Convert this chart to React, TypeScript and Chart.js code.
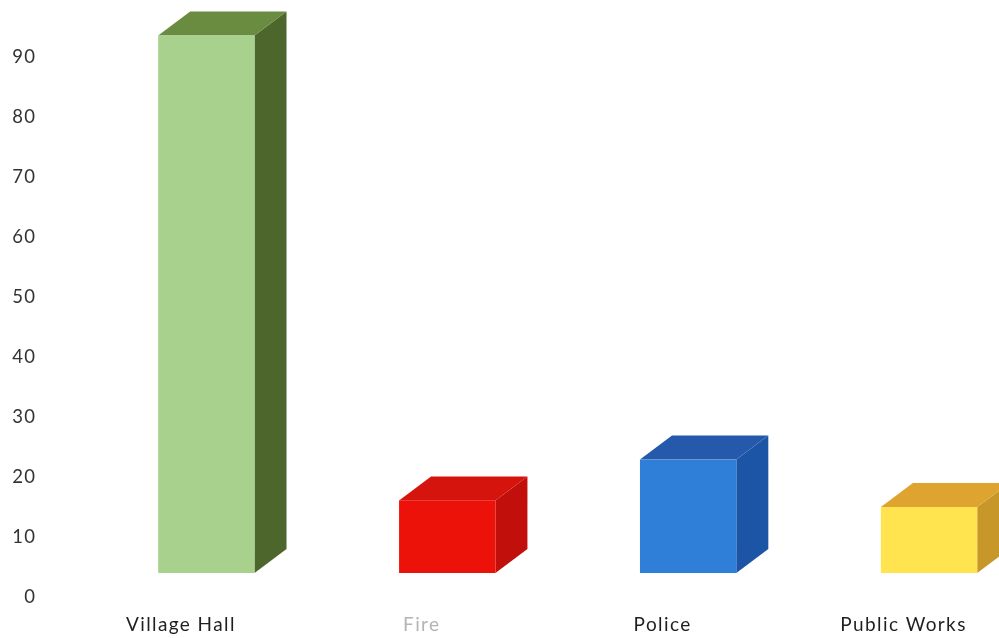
import React, { useEffect, useRef } from 'react';
import { Chart, registerables } from 'chart.js';

Chart.register(...registerables);

// ---- data ----
const categories = ['Village Hall', 'Fire', 'Police', 'Public Works'];
const values = [89.6, 12.1, 18.9, 11];
const yTickValues = [0, 10, 20, 30, 40, 50, 60, 70, 80, 90];

// ---- styles ----
const frontColors = ['#a9d18e', '#ec1209', '#2f7fd8', '#ffe34f'];
const sideColors = ['#4d662b', '#c10f0b', '#1d55a6', '#c8972a'];
const topColors = ['#6a8c40', '#d4140d', '#2459ab', '#dea42f'];
const xLabelColors = ['#1f1f1f', '#b4b4b4', '#1f1f1f', '#1f1f1f'];

// 3D offsets (px)
const OX = 25.5;
const OY = -24;
const DX = 32;
const DY = -24;

const textSpacing = {
  id: 'textSpacing',
  beforeDraw(chart: any) {
    (chart.ctx as any).letterSpacing = '1.4px';
  },
};

const bar3d = {
  id: 'bar3d',
  afterDatasetsDraw(chart: any) {
    const ctx = chart.ctx as CanvasRenderingContext2D;
    const meta = chart.getDatasetMeta(0);
    meta.data.forEach((el: any, i: number) => {
      const p = el.getProps(['x', 'y', 'base', 'width'], true);
      const l = p.x - p.width / 2 + OX;
      const r = p.x + p.width / 2 + OX;
      const t = p.y + OY;
      const b = p.base + OY;
      ctx.save();
      // side face
      ctx.beginPath();
      ctx.moveTo(r, t);
      ctx.lineTo(r + DX, t + DY);
      ctx.lineTo(r + DX, b + DY);
      ctx.lineTo(r, b);
      ctx.closePath();
      ctx.fillStyle = sideColors[i];
      ctx.fill();
      // top face
      ctx.beginPath();
      ctx.moveTo(l, t);
      ctx.lineTo(l + DX, t + DY);
      ctx.lineTo(r + DX, t + DY);
      ctx.lineTo(r, t);
      ctx.closePath();
      ctx.fillStyle = topColors[i];
      ctx.fill();
      // front face
      ctx.fillStyle = frontColors[i];
      ctx.fillRect(l, t, r - l, b - t);
      ctx.restore();
    });
  },
};

export default function App() {
  const ref = useRef<HTMLCanvasElement | null>(null);

  useEffect(() => {
    if (!ref.current) return;
    const chart = new Chart(ref.current, {
      type: 'bar',
      data: {
        labels: categories,
        datasets: [
          {
            data: values,
            backgroundColor: 'rgba(0,0,0,0)',
            borderWidth: 0,
            barPercentage: 0.4,
            categoryPercentage: 1,
          },
        ],
      },
      options: {
        animation: false,
        responsive: true,
        maintainAspectRatio: false,
        layout: { padding: 0 },
        plugins: {
          legend: { display: false },
          tooltip: { enabled: false },
          title: { display: false },
        },
        scales: {
          x: {
            grid: { display: false, drawTicks: false },
            border: { display: false },
            ticks: {
              padding: 16,
              font: { family: 'Lato', size: 19 },
              color: (c: any) => xLabelColors[c.index] || '#1f1f1f',
              maxRotation: 0,
              autoSkip: false,
            },
            afterFit: (s: any) => {
              s.height = 41;
              s.paddingLeft = 0;
              s.paddingRight = 0;
            },
          },
          y: {
            min: 0,
            max: 99.5,
            grid: { display: false, drawTicks: false },
            border: { display: false },
            ticks: {
              padding: 24,
              font: { family: 'Lato', size: 18.5 },
              color: '#333333',
            },
            afterBuildTicks: (s: any) => {
              s.ticks = yTickValues.map((v) => ({ value: v }));
            },
            afterFit: (s: any) => {
              s.width = 60.4;
              s.paddingTop = 0;
              s.paddingBottom = 0;
            },
          },
        },
      },
      plugins: [textSpacing, bar3d],
    });
    return () => chart.destroy();
  }, []);

  return (
    <div
      style={{
        position: 'fixed',
        left: 0,
        top: 0,
        width: 999,
        height: 638,
        overflow: 'hidden',
        background: '#ffffff',
      }}
    >
      <div style={{ position: 'relative', width: 1024, height: 638 }}>
        <canvas ref={ref} />
      </div>
    </div>
  );
}
